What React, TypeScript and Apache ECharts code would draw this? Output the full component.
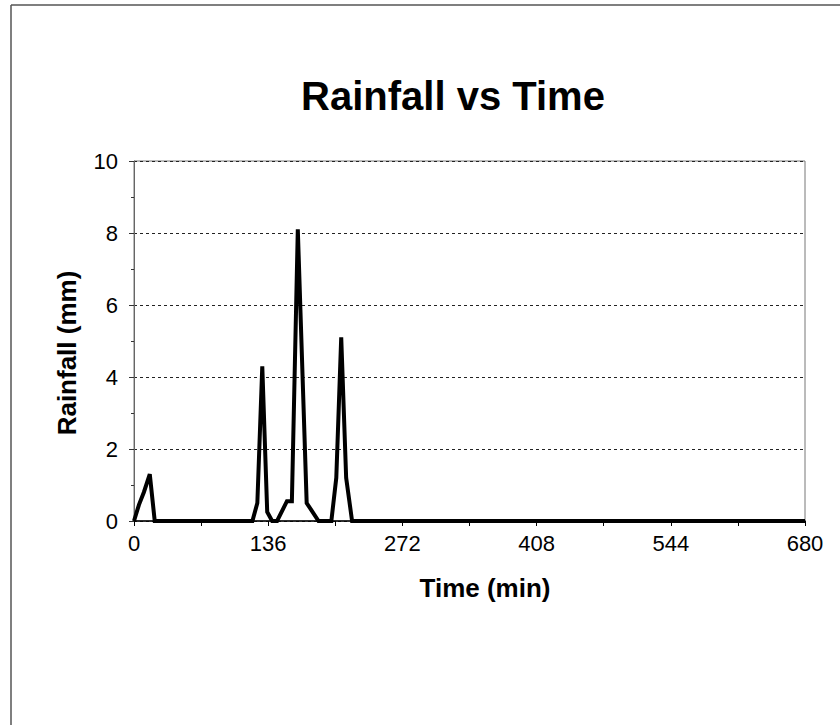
import React, { useEffect, useRef } from "react";
import * as echarts from "echarts";

const titleText = "Rainfall vs Time";
const xAxisTitle = "Time (min)";
const yAxisTitle = "Rainfall (mm)";

const timeMin: number[] = [0, 5, 10, 16, 21, 120, 125, 130, 135, 140, 145, 155, 160, 166, 175, 187, 200, 205, 210, 215, 221, 680];
const rainfallMm: number[] = [0, 0.45, 0.8, 1.3, 0, 0, 0.5, 4.3, 0.25, 0, 0, 0.55, 0.55, 8.1, 0.5, 0, 0, 1.2, 5.1, 1.2, 0, 0];

const xMin = 0;
const xMax = 680;
const xInterval = 136;
const yMin = 0;
const yMax = 10;
const yInterval = 2;

export default function App() {
  const ref = useRef<HTMLDivElement>(null);

  useEffect(() => {
    document.body.style.margin = "0";
    if (!ref.current) return;
    const chart = echarts.init(ref.current, null, { renderer: "svg" });
    const seriesData = timeMin.map((t, i) => [t, rainfallMm[i]]);
    const font = "Liberation Sans, Arial, sans-serif";

    chart.setOption({
      animation: false,
      backgroundColor: "#ffffff",
      title: {
        text: titleText,
        left: 448,
        top: 71,
        textAlign: "center",
        textStyle: {
          fontFamily: font,
          fontWeight: "bold",
          fontSize: 40,
          color: "#000",
        },
      },
      grid: {
        left: 134,
        right: 35,
        top: 161,
        bottom: 204,
        show: true,
        borderColor: "#777",
        borderWidth: 1,
        backgroundColor: "transparent",
      },
      xAxis: {
        type: "value",
        min: xMin,
        max: xMax,
        interval: xInterval,
        name: xAxisTitle,
        nameLocation: "middle",
        nameGap: 54,
        nameTextStyle: {
          fontFamily: font,
          fontWeight: "bold",
          fontSize: 26,
          color: "#000",
          padding: [0, 0, 0, 31],
        },
        axisLine: { show: true, lineStyle: { color: "#000", width: 1.5 } },
        axisTick: { show: true, length: 5, lineStyle: { color: "#000" } },
        minorTick: { show: true, splitNumber: 2, length: 5, lineStyle: { color: "#000" } },
        axisLabel: {
          fontFamily: font,
          fontSize: 22,
          color: "#000",
          margin: 11,
        },
        splitLine: { show: false },
      },
      yAxis: {
        type: "value",
        min: yMin,
        max: yMax,
        interval: yInterval,
        name: yAxisTitle,
        nameLocation: "middle",
        nameGap: 54,
        nameTextStyle: {
          fontFamily: font,
          fontWeight: "bold",
          fontSize: 26,
          color: "#000",
          padding: [0, 24, 0, 0],
        },
        axisLine: { show: true, lineStyle: { color: "#666", width: 1 } },
        axisTick: { show: true, length: 5, lineStyle: { color: "#333" } },
        minorTick: { show: true, splitNumber: 2, length: 3, lineStyle: { color: "#333" } },
        axisLabel: {
          fontFamily: font,
          fontSize: 22,
          color: "#000",
          margin: 16,
        },
        splitLine: {
          show: true,
          lineStyle: { color: "#222", type: [3, 3], width: 1 },
        },
      },
      graphic: [
        {
          type: "line",
          shape: { x1: 11, y1: 5, x2: 11, y2: 725 },
          style: { stroke: "#555", lineWidth: 1.5 },
        },
        {
          type: "line",
          shape: { x1: 11, y1: 5, x2: 840, y2: 5 },
          style: { stroke: "#555", lineWidth: 1.5 },
        },
      ],
      series: [
        {
          type: "line",
          data: seriesData,
          showSymbol: false,
          symbol: "none",
          lineStyle: { color: "#000", width: 4, join: "miter" },
          z: 5,
        },
      ],
    });

    return () => {
      chart.dispose();
    };
  }, []);

  return <div ref={ref} style={{ width: 840, height: 725 }} />;
}
